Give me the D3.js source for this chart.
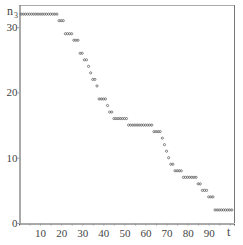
<!DOCTYPE html>
<html>
  <head>
    <meta charset="utf-8" />
    <script src="https://d3js.org/d3.v7.min.js"></script>
    <style>
      body { margin: 0; background: #fff; }
      text { font-family: "Liberation Serif", "DejaVu Serif", serif; fill: #444; }
    </style>
  </head>
  <body>
    <svg id="chart" width="243" height="245"></svg>
    <script>
      // n_3 level and the t range it holds [level, tStart, tEnd]
      var levels = [32, 31, 29, 28, 26, 25, 24, 23, 22, 21, 19, 18, 17, 16, 15, 14, 13, 12, 11, 10, 9, 8, 7, 6, 5, 4, 2];
      var tStart = [1, 19, 22, 26, 29, 31, 33, 34, 35, 37, 38, 42, 43, 45, 52, 64, 68, 69, 70, 71, 72, 74, 78, 85, 87, 90, 93];
      var tEnd   = [18, 21, 25, 28, 30, 32, 33, 34, 36, 37, 41, 42, 44, 51, 63, 67, 68, 69, 70, 71, 73, 77, 84, 86, 89, 92, 101];
      var xTicks = [10, 20, 30, 40, 50, 60, 70, 80, 90];
      var yTicks = [0, 10, 20, 30];

      var data = [];
      levels.forEach(function (v, i) {
        for (var t = tStart[i]; t <= tEnd[i]; t++) data.push({ t: t, n: v });
      });

      var svg = d3.select("#chart");
      var x = d3.scaleLinear().domain([0, 102]).range([19, 234]);
      var y = d3.scaleLinear().domain([0, 33.4]).range([223, 5]);

      // frame
      svg.append("line").attr("x1", 19).attr("x2", 234).attr("y1", 5.5).attr("y2", 5.5)
        .attr("stroke", "#aaa");
      svg.append("line").attr("x1", 234.5).attr("x2", 234.5).attr("y1", 5).attr("y2", 223)
        .attr("stroke", "#777");

      var gx = svg.append("g").attr("transform", "translate(0,223.5)")
        .call(d3.axisBottom(x).tickValues(d3.range(5, 101, 5)).tickSize(2)
          .tickFormat(function (d) { return xTicks.indexOf(d) >= 0 ? d : ""; }));
      gx.select(".domain").attr("stroke", "#555");
      gx.selectAll(".tick line").attr("stroke", "#999");
      gx.selectAll("text").attr("font-size", 11).attr("dy", "0.8em")
        .attr("font-family", "Liberation Serif").attr("fill", "#444");

      var gy = svg.append("g").attr("transform", "translate(19.5,0)")
        .call(d3.axisLeft(y).tickValues(yTicks).tickSize(2).tickSizeOuter(0));
      gy.select(".domain").attr("stroke", "#555");
      gy.selectAll(".tick line").attr("stroke", "#999");
      gy.selectAll("text").attr("font-size", 11).attr("x", -2)
        .attr("font-family", "Liberation Serif").attr("fill", "#444");

      svg.append("text").attr("x", 7).attr("y", 15).attr("font-size", 12).text("n");
      svg.append("text").attr("x", 14).attr("y", 18).attr("font-size", 8).text("3");
      svg.append("text").attr("x", 227).attr("y", 236).attr("font-size", 12).text("t");

      svg.append("g").selectAll("circle").data(data).enter().append("circle")
        .attr("cx", function (d) { return x(d.t); })
        .attr("cy", function (d) { return y(d.n); })
        .attr("r", 1.1)
        .attr("fill", "none")
        .attr("stroke", "#555")
        .attr("stroke-width", 0.7);
    </script>
  </body>
</html>
